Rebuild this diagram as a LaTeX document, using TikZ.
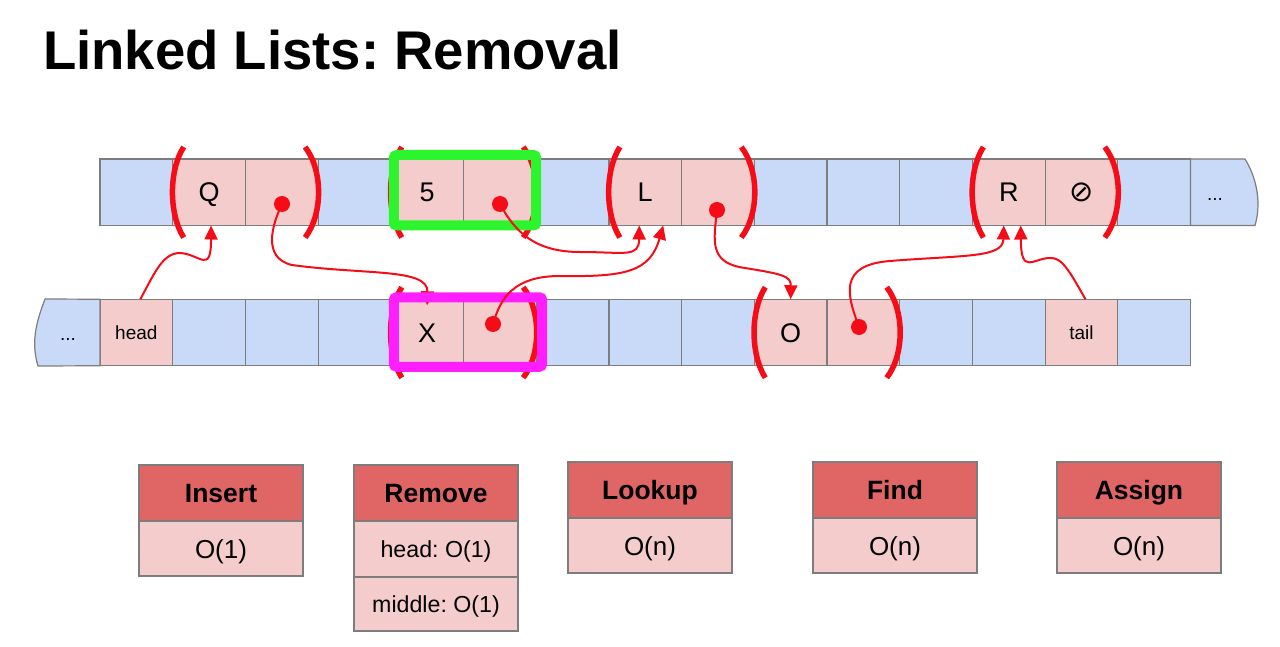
\documentclass[tikz,border=0pt]{standalone}
\usepackage{fontspec}
\setmainfont{Liberation Sans}
\newfontfamily\symbfont{DejaVu Sans}
\usepackage{xcolor}
\usetikzlibrary{arrows.meta, positioning}
\frenchspacing

\definecolor{cellblue}{RGB}{201,218,248}
\definecolor{cellpink}{RGB}{244,204,204}
\definecolor{hdred}{RGB}{224,102,102}
\definecolor{gridgray}{RGB}{125,125,125}
\definecolor{ptrred}{RGB}{245,12,22}
\definecolor{boxgreen}{RGB}{45,245,45}
\definecolor{boxmagenta}{RGB}{255,30,255}

\newcommand{\cellsmall}{\fontsize{19}{22}\selectfont}

\tikzset{
  cell/.style={draw=gridgray, line width=1.2pt, minimum width=72.7pt, minimum height=66.5pt,
    inner sep=0pt, outer sep=0pt, text height=19.4pt, text depth=0pt, font=\fontsize{27}{30}\selectfont},
  smallcell/.style={cell, text height=13.6pt, font=\cellsmall},
  bracket/.style={draw=ptrred, line width=5.5pt},
  dot/.style={circle, fill=ptrred, minimum size=16pt, inner sep=0pt},
  ptr/.style={draw=ptrred, line width=2pt, -{Triangle[length=14pt, width=13pt]}},
  hilite/.style={line width=10pt, rounded corners=3pt},
  ophead/.style={draw=gridgray, line width=1.2pt, fill=hdred, minimum width=164pt, minimum height=56pt,
    inner sep=0pt, outer sep=0pt, text height=19pt, text depth=0pt, font=\bfseries\fontsize{26.5}{30}\selectfont},
  opval/.style={draw=gridgray, line width=1.2pt, fill=cellpink, minimum width=164pt, minimum height=55pt,
    inner sep=0pt, outer sep=0pt, text height=19pt, text depth=0pt, font=\fontsize{26}{30}\selectfont}
}

\begin{document}
\begin{tikzpicture}[x=1pt, y=-1pt]
  \useasboundingbox (0,0) rectangle (1280,647);

  % Title
  \node[anchor=base west, inner sep=0pt, font=\bfseries\fontsize{54.5}{60}\selectfont] (title) at (43,70) {Linked Lists: Removal};

  % Top row of memory
  \foreach \i/\f/\txt in {0/cellblue/{},1/cellpink/Q,2/cellpink/{},3/cellblue/{},4/cellpink/5,
      5/cellpink/{},6/cellblue/{},7/cellpink/L,8/cellpink/{},9/cellblue/{},10/cellblue/{},
      11/cellblue/{},12/cellpink/R,13/cellpink/{\symbfont\fontsize{29}{30}\selectfont ⊘},14/cellblue/{}}
    \node[cell, fill=\f] (t\i) at ({136.35+72.7*\i}, 192.25) {\txt};
  \draw[draw=gridgray, line width=1.2pt, fill=cellblue] (t14.north east) -- (1245,159)
    .. controls (1258,180) and (1261,205) .. (1255,225.5) -- (t14.south east) -- cycle;
  \node[font=\cellsmall] (tmore) at (1215,199) {...};

  % Bottom row of memory
  \foreach \i/\f/\txt in {1/cellblue/{},2/cellblue/{},3/cellblue/{},
      4/cellpink/X,5/cellpink/{},6/cellblue/{},7/cellblue/{},8/cellblue/{},9/cellpink/O,
      10/cellpink/{},11/cellblue/{},12/cellblue/{},14/cellblue/{}}
    \node[cell, fill=\f] (b\i) at ({136.35+72.7*\i}, 332.5) {\txt};
  \node[smallcell, fill=cellpink] (b0) at (136.35, 332.5) {head};
  \node[smallcell, fill=cellpink] (b13) at ({136.35+72.7*13}, 332.5) {tail};
  \draw[draw=gridgray, line width=1.2pt, fill=cellblue] (b0.north west) -- (45,299)
    .. controls (38,318) and (30,340) .. (38,366) -- (b0.south west) -- cycle;
  \node[font=\cellsmall] (bmore) at (68,339) {...};

  % Brackets round each list node
  \foreach \a/\b in {t1/t2, t4/t5, t7/t8, t12/t13, b4/b5, b9/b10} {
    \draw[bracket] ([shift={(11pt,12pt)}]\a.north west) .. controls ([shift={(-4pt,22pt)}]\a.west)
      and ([shift={(-4pt,-22pt)}]\a.west) .. ([shift={(11pt,-12pt)}]\a.south west);
    \draw[bracket] ([shift={(-13pt,12pt)}]\b.north east) .. controls ([shift={(5pt,22pt)}]\b.east)
      and ([shift={(5pt,-22pt)}]\b.east) .. ([shift={(-13pt,-12pt)}]\b.south east);
  }

  % Next pointers
  \node[dot] (qdot) at (282,204) {};
  \node[dot] (fdot) at (500,204) {};
  \node[dot] (ldot) at (717,210) {};
  \node[dot] (xdot) at (493,324) {};
  \node[dot] (odot) at (859,327) {};

  % Q -> X (under the highlight)
  \draw[ptr] (qdot.center) .. controls (272,225) and (262,258) .. (292,265)
    .. controls (365,275) and (428,268) .. ([yshift=-6pt]b4.north);

  % Highlights
  \draw[hilite, boxgreen] ([shift={(3pt,4pt)}]t4.north west) rectangle (t5.south east);
  \draw[hilite, boxmagenta] ([shift={(3pt,2pt)}]b4.north west) rectangle ([shift={(6pt,-1pt)}]b5.south east);

  % head -> Q
  \draw[ptr] ([xshift=4pt]b0.north) .. controls (155,272) and (163,253) .. (180,253)
    .. controls (200,254) and (211,275) .. ([xshift=2pt]t1.south);
  % 5 -> L
  \draw[ptr] (fdot.center) .. controls (515,232) and (535,252) .. (580,252)
    .. controls (625,252) and (639,258) .. ([xshift=-6pt]t7.south);
  % X -> L
  \draw[ptr] (xdot.center) .. controls (500,300) and (512,276) .. (560,276)
    .. controls (625,277) and (650,272) .. ([xshift=18pt]t7.south);
  % L -> O
  \draw[ptr] (ldot.center) .. controls (714,240) and (708,263) .. (745,268)
    .. controls (782,274) and (791,276) .. (b9.north);
  % O -> R
  \draw[ptr] (odot.center) .. controls (847,295) and (838,265) .. (890,261)
    .. controls (965,255) and (1003,258) .. ([xshift=-5pt]t12.south);
  % tail -> R
  \draw[ptr] ([xshift=4pt]b13.north) .. controls (1070,272) and (1062,257) .. (1050,258)
    .. controls (1033,258) and (1021,276) .. ([xshift=12pt]t12.south);

  % Cost tables
  \node[ophead, anchor=north west] (ins-h) at (139,465) {Insert};
  \node[opval, below=0pt of ins-h] (ins-v) {O(1)};

  \node[ophead, anchor=north west] (rem-h) at (354,465) {Remove};
  \node[opval, below=0pt of rem-h, minimum height=56pt, text height=17pt, font=\fontsize{23.2}{26}\selectfont] (rem-a) {head: O(1)};
  \node[opval, below=0pt of rem-a, minimum height=54pt, text height=17pt, font=\fontsize{23.2}{26}\selectfont] (rem-b) {middle: O(1)};

  \node[ophead, anchor=north west] (look-h) at (568,462) {Lookup};
  \node[opval, below=0pt of look-h] (look-v) {O(n)};

  \node[ophead, anchor=north west] (find-h) at (813,462) {Find};
  \node[opval, below=0pt of find-h] (find-v) {O(n)};

  \node[ophead, anchor=north west] (asg-h) at (1057,462) {Assign};
  \node[opval, below=0pt of asg-h] (asg-v) {O(n)};
\end{tikzpicture}
\end{document}
